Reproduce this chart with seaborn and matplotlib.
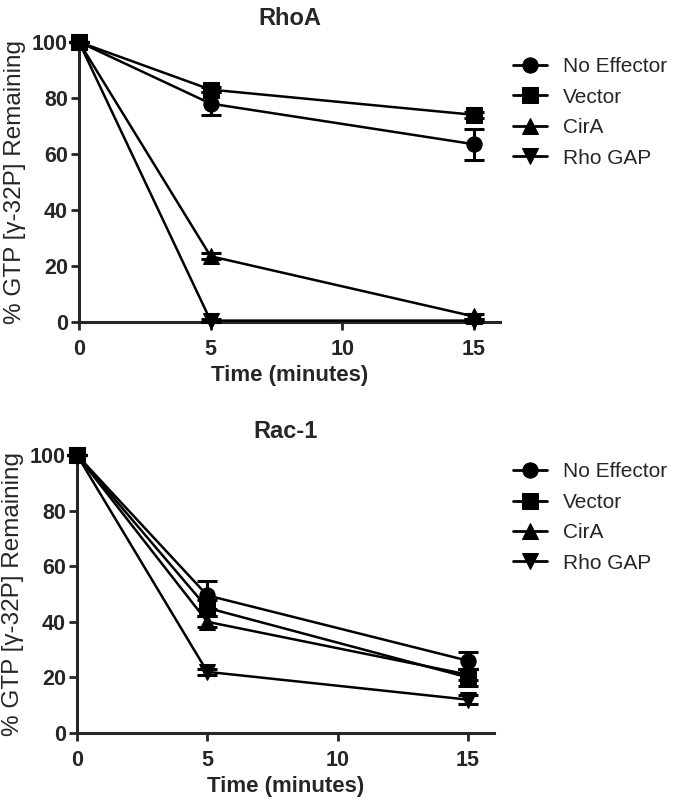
import matplotlib
matplotlib.use("Agg")
import matplotlib.pyplot as plt
import seaborn as sns
import pandas as pd
import numpy as np

sns.set_style("ticks")
plt.rcParams['font.family'] = ['Liberation Sans', 'DejaVu Sans']

times = [0, 5, 15]
series = ["No Effector", "Vector", "CirA", "Rho GAP"]
markers = {"No Effector": "o", "Vector": "s", "CirA": "^", "Rho GAP": "v"}

rhoa_no_effector = [100, 78, 63.5]
rhoa_vector = [100, 83, 74]
rhoa_cira = [100, 23.5, 2]
rhoa_rhogap = [100, 0.5, 0.5]
rhoa_err_no_effector = [0, 4, 5.5]
rhoa_err_vector = [0, 1, 1]
rhoa_err_cira = [0, 1, 1]
rhoa_err_rhogap = [0, 0.5, 0.5]

rac_no_effector = [100, 49.5, 26]
rac_vector = [100, 45, 20]
rac_cira = [100, 40, 21]
rac_rhogap = [100, 22, 12]
rac_err_no_effector = [0, 5, 3]
rac_err_vector = [0, 3, 3]
rac_err_cira = [0, 2, 2]
rac_err_rhogap = [0, 1, 1.5]

def make_df(vals, errs):
    rows = []
    for s, v, e in zip(series, vals, errs):
        for t, y, ee in zip(times, v, e):
            rows.append({"Time": t, "Value": y, "Err": ee, "Series": s})
    return pd.DataFrame(rows)

df_top = make_df([rhoa_no_effector, rhoa_vector, rhoa_cira, rhoa_rhogap],
                 [rhoa_err_no_effector, rhoa_err_vector, rhoa_err_cira, rhoa_err_rhogap])
df_bot = make_df([rac_no_effector, rac_vector, rac_cira, rac_rhogap],
                 [rac_err_no_effector, rac_err_vector, rac_err_cira, rac_err_rhogap])

fig = plt.figure(figsize=(6.8, 8.02), dpi=100)
ax1 = fig.add_axes([79/680, (802-322)/802, 421/680, 280/802])
ax2 = fig.add_axes([77/680, (802-733)/802, 417/680, 278/802])

def draw(ax, df, title, legend_y):
    for s in series:
        d = df[df.Series == s]
        ax.errorbar(d.Time, d.Value, yerr=d.Err, fmt="none", ecolor="black",
                    elinewidth=2.2, capsize=7, capthick=2.2, clip_on=False, zorder=3)
    sns.lineplot(data=df, x="Time", y="Value", style="Series", markers=markers,
                 dashes=False, color="black", linewidth=1.8, markersize=11,
                 markeredgecolor="black", markerfacecolor="black",
                 ax=ax, legend=True, clip_on=False, zorder=4, errorbar=None)
    ax.set_xlim(0, 16)
    ax.set_ylim(0, 100)
    ax.set_xticks([0, 5, 10, 15])
    ax.set_yticks([0, 20, 40, 60, 80, 100])
    for sp in ["top", "right"]:
        ax.spines[sp].set_visible(False)
    for sp in ["left", "bottom"]:
        ax.spines[sp].set_linewidth(2.2)
    ax.tick_params(width=2.0, length=6, labelsize=15.5, direction="out")
    ax.tick_params(axis="x", pad=6)
    ax.tick_params(axis="y", pad=2)
    for lab in ax.get_xticklabels() + ax.get_yticklabels():
        lab.set_fontweight("bold")
    ax.set_xlabel("Time (minutes)", fontsize=16, fontweight="bold", labelpad=4)
    ax.set_ylabel("% GTP [γ-32P] Remaining", fontsize=17.5, labelpad=4)
    ax.set_title(title, fontsize=17, fontweight="bold", pad=12)
    handles, labels = ax.get_legend_handles_labels()
    leg = ax.legend(handles, labels, loc="upper left", bbox_to_anchor=(505/680, legend_y),
                    bbox_transform=fig.transFigure, frameon=False, fontsize=15,
                    handlelength=1.6, handletextpad=0.8, labelspacing=0.55, borderaxespad=0)
    for h in leg.legend_handles:
        h.set_linewidth(2.0)

draw(ax1, df_top, "RhoA", 1 - 49/802)
draw(ax2, df_bot, "Rac-1", 1 - 454/802)

fig.savefig("out.png", dpi=100)
